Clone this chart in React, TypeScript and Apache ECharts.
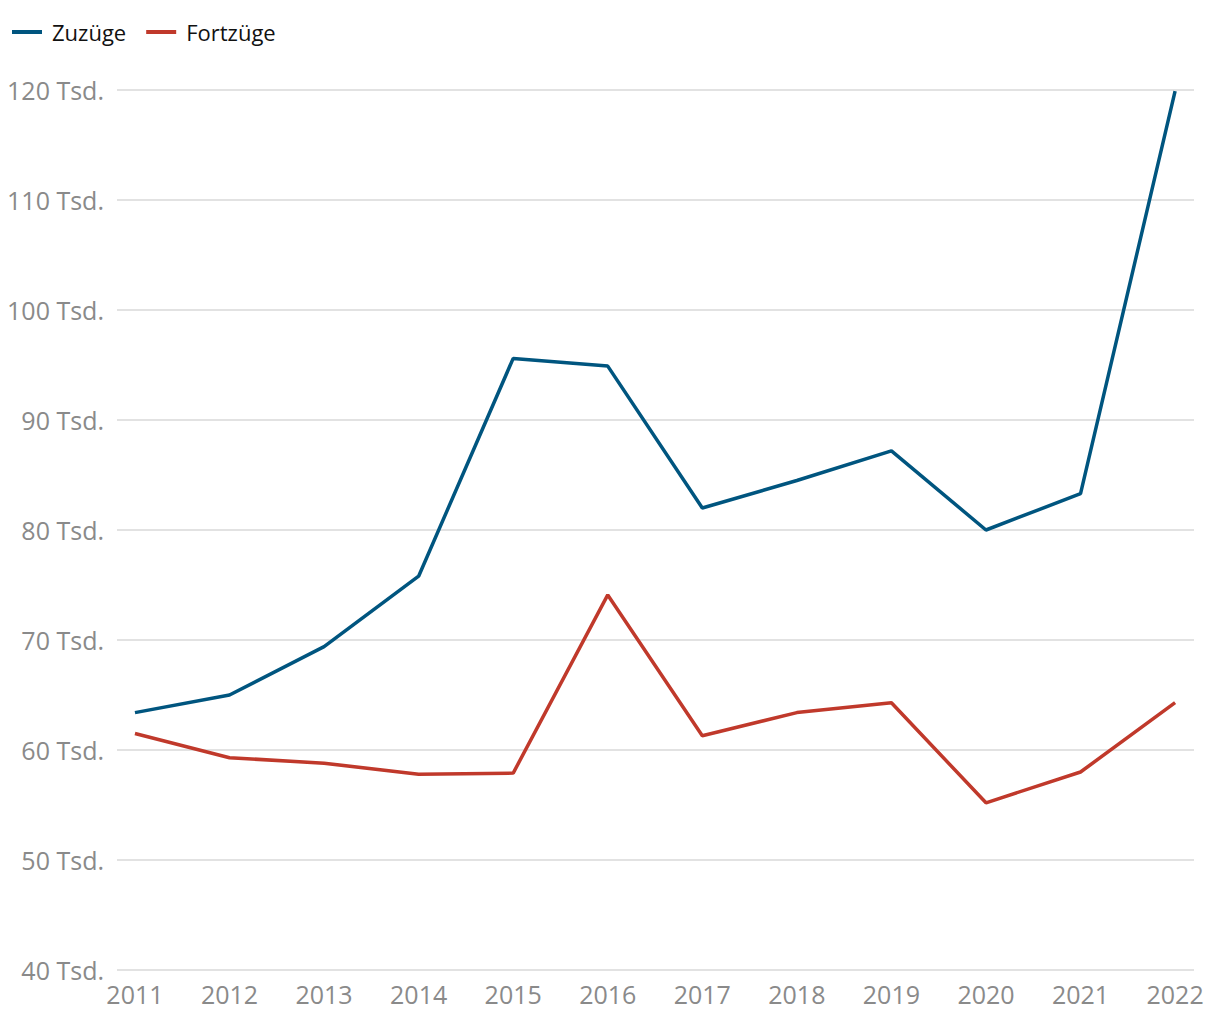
import React, { useEffect, useRef } from "react";
import * as echarts from "echarts";

const years = [2011, 2012, 2013, 2014, 2015, 2016, 2017, 2018, 2019, 2020, 2021, 2022];
const zuzuege = [63.4, 65.0, 69.4, 75.8, 95.6, 94.9, 82.0, 84.5, 87.2, 80.0, 83.3, 119.9];
const fortzuege = [61.5, 59.3, 58.8, 57.8, 57.9, 74.1, 61.3, 63.4, 64.3, 55.2, 58.0, 64.3];
const yTicks = [40, 50, 60, 70, 80, 90, 100, 110, 120];

const FONT = "'Open Sans', 'DejaVu Sans', sans-serif";

export default function App() {
  const ref = useRef<HTMLDivElement>(null);
  useEffect(() => {
    document.body.style.margin = "0";
    const chart = echarts.init(ref.current!, null, { renderer: "svg" });
    chart.setOption({
      animation: false,
      backgroundColor: "#ffffff",
      legend: {
        left: 7,
        top: 16,
        itemWidth: 30,
        itemHeight: 4,
        itemGap: 20,
        icon: "rect",
        textStyle: { fontFamily: FONT, fontSize: 22, color: "#111", padding: [0, 0, 0, 5] },
        data: ["Zuzüge", "Fortzüge"],
      },
      grid: { left: 117, right: 26, top: 90, bottom: 50 },
      xAxis: {
        type: "value",
        min: 2010.81,
        max: 2022.2,
        axisLine: { show: false },
        axisTick: { show: false },
        splitLine: { show: false },
        axisLabel: {
          customValues: years,
          formatter: (v: number) => String(Math.round(v)),
          color: "#8a8a8a",
          fontFamily: FONT,
          fontSize: 25,
          margin: 11,
        },
      },
      yAxis: {
        type: "value",
        min: 40,
        max: 120,
        interval: 10,
        axisLine: { show: false },
        axisTick: { show: false },
        splitLine: { lineStyle: { color: "#d9d9d9", width: 1.5 } },
        axisLabel: {
          customValues: yTicks,
          formatter: (v: number) => `${v} Tsd.`,
          color: "#8a8a8a",
          fontFamily: FONT,
          fontSize: 25,
          margin: 13,
        },
      },
      series: [
        {
          name: "Zuzüge",
          type: "line",
          data: years.map((y, i) => [y, zuzuege[i]]),
          showSymbol: false,
          lineStyle: { color: "#00557f", width: 3.5 },
          itemStyle: { color: "#00557f" },
        },
        {
          name: "Fortzüge",
          type: "line",
          data: years.map((y, i) => [y, fortzuege[i]]),
          showSymbol: false,
          lineStyle: { color: "#c0392b", width: 3.5 },
          itemStyle: { color: "#c0392b" },
        },
      ],
    });
    return () => chart.dispose();
  }, []);
  return <div ref={ref} style={{ width: 1220, height: 1020 }} />;
}
